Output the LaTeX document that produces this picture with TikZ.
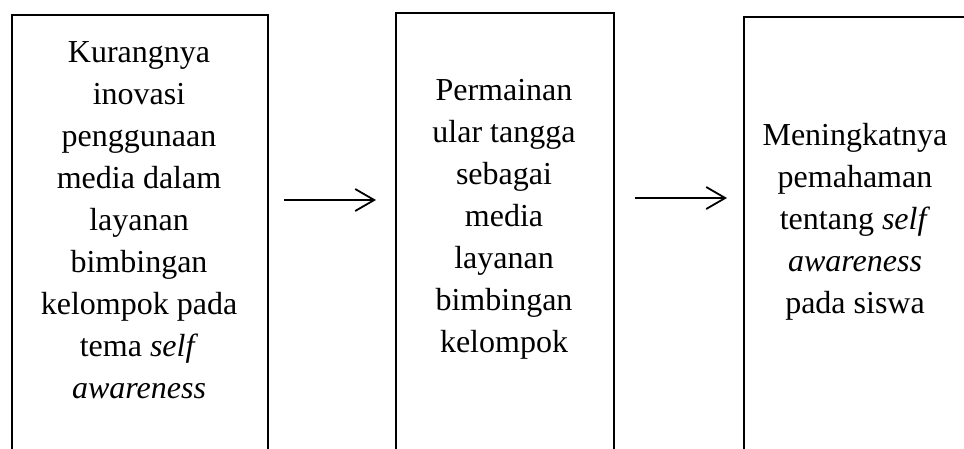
\documentclass[tikz,border=0pt]{standalone}
\usepackage{fontspec}
\setmainfont{Liberation Serif}
\usetikzlibrary{arrows.meta}
\begin{document}
\begin{tikzpicture}[x=1pt,y=-1pt,
  boxsty/.style={draw=black, line width=1.9pt, rectangle, inner sep=0pt, anchor=north west},
  txt/.style={align=center, anchor=base, inner sep=0pt, font=\fontsize{32}{42}\selectfont},
  arr/.style={line width=1.8pt, -{Straight Barb[length=19pt,width=22pt,line width=1.8pt]}}]
\useasboundingbox (0,0) rectangle (964,448);
\begin{scope}
\clip (0,0) rectangle (964,448);
\node[boxsty, minimum width=256pt, minimum height=480pt] (b1) at (11,14) {};
\node[boxsty, minimum width=218pt, minimum height=480pt] (b2) at (395,12) {};
\node[boxsty, minimum width=230pt, minimum height=480pt] (b3) at (743,16) {};
\end{scope}
\node[txt] (t1) at (139,398) {Kurangnya\\inovasi\\penggunaan\\media dalam\\layanan\\bimbingan\\kelompok pada\\tema \textit{self}\\\textit{awareness}};
\node[txt] (t2) at (504,352) {Permainan\\ular tangga\\sebagai\\media\\layanan\\bimbingan\\kelompok};
\node[txt] (t3) at (855,313) {Meningkatnya\\pemahaman\\tentang \textit{self}\\\textit{awareness}\\pada siswa};
\coordinate (a1) at (0,200);
\coordinate (a2) at (0,198);
\draw[arr] ([xshift=15pt]b1.east |- a1) -- ([xshift=-19pt]b2.west |- a1);
\draw[arr] ([xshift=20pt]b2.east |- a2) -- ([xshift=-16pt]b3.west |- a2);
\end{tikzpicture}
\end{document}
